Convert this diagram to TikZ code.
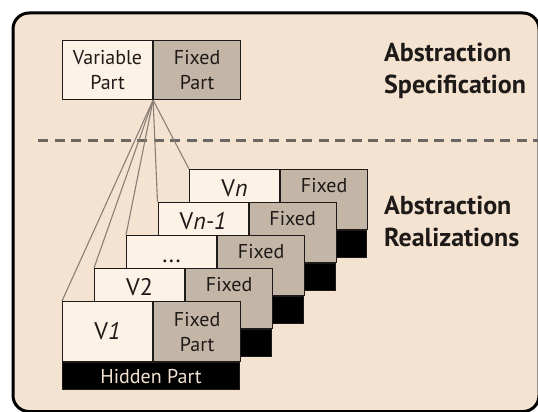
\documentclass[tikz,border=0pt]{standalone}
\usepackage{fontspec}
\setmainfont{PT Sans}
\usetikzlibrary{calc}

\definecolor{panel}{HTML}{F4E3D1}
\definecolor{varfill}{HTML}{FCF2E6}
\definecolor{fixfill}{HTML}{C4B6A7}
\definecolor{fanline}{HTML}{8A7F75}
\definecolor{sepline}{HTML}{6C6762}
\definecolor{ink}{HTML}{1E1A18}

\tikzset{
  part/.style={draw=ink, line width=1.1pt, rectangle, inner sep=0pt, anchor=north west},
  varpart/.style={part, fill=varfill, minimum width=90pt, minimum height=#1},
  varpart/.default=60pt,
  fixpart/.style={part, fill=fixfill, minimum width=87pt, minimum height=#1},
  fixpart/.default=60pt,
  hidpart/.style={part, fill=black, minimum width=177pt, minimum height=27pt},
  boxtext/.style={inner sep=0pt, text=ink, font=\fontsize{20}{25}\selectfont, align=center},
  vlabel/.style={inner sep=0pt, text=ink, font=\fontsize{24}{25}\selectfont, anchor=base},
  fixlabel/.style={boxtext, anchor=base},
  sidetext/.style={inner sep=0pt, text=ink, font=\fontsize{26}{32}\selectfont\bfseries, align=left, anchor=north west},
  fan/.style={draw=fanline, line width=1.1pt},
}

% one realization box: name, top-left corner, label
\newcommand\realization[3]{%
  \node[varpart] (#1v) at (#2) {};
  \node[fixpart] (#1f) at (#1v.north east) {};
  \node[hidpart] (#1h) at (#1v.south west) {};
  \node[vlabel] (#1l) at ($(#1v.north)+(0,27.5)$) {#3};
  \node[fixlabel] (#1t) at ($(#1f.north)+(0,23.5)$) {Fixed};
}

\begin{document}
\begin{tikzpicture}[x=1pt, y=-1pt]
  \useasboundingbox (0,0) rectangle (538,412);
  \begin{scope}
    \clip (0,0) rectangle (538,412);
    \fill[white] (0,0) rectangle (538,412);
    \draw[line width=3pt, fill=panel, rounded corners=16pt] (13,13) rectangle (539,411.5);
  \end{scope}

  % abstraction specification
  \node[varpart=59pt] (specv) at (62,40) {};
  \node[fixpart=59pt] (specf) at (specv.north east) {};
  \node[boxtext] at (specv.center) {Variable\\Part};
  \node[boxtext] at (specf.center) {Fixed\\Part};
  \coordinate (fanpt) at (specv.south east);

  \node[sidetext] (spec) at (384,43) {Abstraction\\Specification};

  % separator
  \draw[sepline, line width=3pt, dash pattern=on 10pt off 6.5pt] (38,140) -- (540,140);

  \node[sidetext] (real) at (384,196) {Abstraction\\Realizations};

  % fan-out lines to each realization
  \coordinate (c1) at (62,301);
  \coordinate (c2) at (94,268);
  \coordinate (c3) at (126,235);
  \coordinate (c4) at (157.5,202);
  \coordinate (c5) at (189,169);
  \foreach \c in {c1,c2,c3,c4,c5} \draw[fan] (fanpt) -- (\c);

  % realizations, back to front
  \realization{rn}{c5}{V\textit{n}}
  \realization{rm}{c4}{V\textit{n-1}}
  \realization{rd}{c3}{...}
  \realization{rb}{c2}{V2}

  \node[varpart] (rav) at (c1) {};
  \node[fixpart] (raf) at (rav.north east) {};
  \node[hidpart] (rah) at (rav.south west) {};
  \node[boxtext, font=\fontsize{24}{25}\selectfont] at (rav.center) {V\textit{1}};
  \node[boxtext] at (raf.center) {Fixed\\Part};
  \node[boxtext, text=panel] at (rah.center) {Hidden Part};
\end{tikzpicture}
\end{document}
